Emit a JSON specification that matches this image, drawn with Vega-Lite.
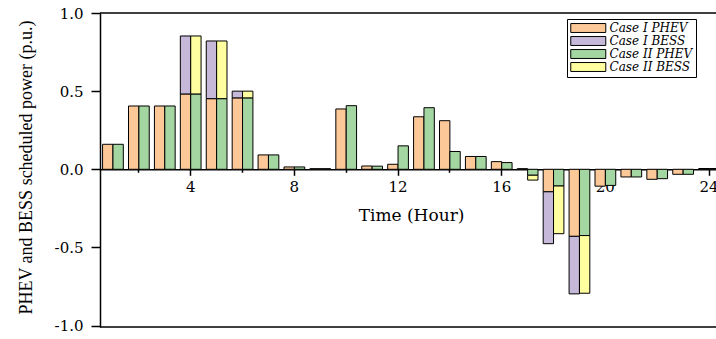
{
  "$schema": "https://vega.github.io/schema/vega-lite/v6.json",
  "autosize": "none",
  "width": 616,
  "height": 314,
  "padding": {"left": 100, "top": 13, "right": 0, "bottom": 12},
  "background": "white",
  "config": {"view": {"stroke": null}},
  "layer": [
    {
      "data": {"values": [
        {"hour":1,"case":"I","type":"PHEV","series":"Case I PHEV","value":0.16},
        {"hour":2,"case":"I","type":"PHEV","series":"Case I PHEV","value":0.405},
        {"hour":3,"case":"I","type":"PHEV","series":"Case I PHEV","value":0.405},
        {"hour":4,"case":"I","type":"PHEV","series":"Case I PHEV","value":0.482},
        {"hour":5,"case":"I","type":"PHEV","series":"Case I PHEV","value":0.452},
        {"hour":6,"case":"I","type":"PHEV","series":"Case I PHEV","value":0.457},
        {"hour":7,"case":"I","type":"PHEV","series":"Case I PHEV","value":0.092},
        {"hour":8,"case":"I","type":"PHEV","series":"Case I PHEV","value":0.015},
        {"hour":9,"case":"I","type":"PHEV","series":"Case I PHEV","value":0.004},
        {"hour":10,"case":"I","type":"PHEV","series":"Case I PHEV","value":0.386},
        {"hour":11,"case":"I","type":"PHEV","series":"Case I PHEV","value":0.021},
        {"hour":12,"case":"I","type":"PHEV","series":"Case I PHEV","value":0.032},
        {"hour":13,"case":"I","type":"PHEV","series":"Case I PHEV","value":0.336},
        {"hour":14,"case":"I","type":"PHEV","series":"Case I PHEV","value":0.311},
        {"hour":15,"case":"I","type":"PHEV","series":"Case I PHEV","value":0.082},
        {"hour":16,"case":"I","type":"PHEV","series":"Case I PHEV","value":0.049},
        {"hour":17,"case":"I","type":"PHEV","series":"Case I PHEV","value":0.004},
        {"hour":18,"case":"I","type":"PHEV","series":"Case I PHEV","value":-0.144},
        {"hour":19,"case":"I","type":"PHEV","series":"Case I PHEV","value":-0.429},
        {"hour":20,"case":"I","type":"PHEV","series":"Case I PHEV","value":-0.108},
        {"hour":21,"case":"I","type":"PHEV","series":"Case I PHEV","value":-0.049},
        {"hour":22,"case":"I","type":"PHEV","series":"Case I PHEV","value":-0.064},
        {"hour":23,"case":"I","type":"PHEV","series":"Case I PHEV","value":-0.032},
        {"hour":24,"case":"I","type":"PHEV","series":"Case I PHEV","value":0.005},
        {"hour":4,"case":"I","type":"BESS","series":"Case I BESS","value":0.371},
        {"hour":5,"case":"I","type":"BESS","series":"Case I BESS","value":0.369},
        {"hour":6,"case":"I","type":"BESS","series":"Case I BESS","value":0.043},
        {"hour":18,"case":"I","type":"BESS","series":"Case I BESS","value":-0.332},
        {"hour":19,"case":"I","type":"BESS","series":"Case I BESS","value":-0.368},
        {"hour":1,"case":"II","type":"PHEV","series":"Case II PHEV","value":0.16},
        {"hour":2,"case":"II","type":"PHEV","series":"Case II PHEV","value":0.405},
        {"hour":3,"case":"II","type":"PHEV","series":"Case II PHEV","value":0.405},
        {"hour":4,"case":"II","type":"PHEV","series":"Case II PHEV","value":0.482},
        {"hour":5,"case":"II","type":"PHEV","series":"Case II PHEV","value":0.452},
        {"hour":6,"case":"II","type":"PHEV","series":"Case II PHEV","value":0.457},
        {"hour":7,"case":"II","type":"PHEV","series":"Case II PHEV","value":0.092},
        {"hour":8,"case":"II","type":"PHEV","series":"Case II PHEV","value":0.015},
        {"hour":9,"case":"II","type":"PHEV","series":"Case II PHEV","value":0.004},
        {"hour":10,"case":"II","type":"PHEV","series":"Case II PHEV","value":0.407},
        {"hour":11,"case":"II","type":"PHEV","series":"Case II PHEV","value":0.02},
        {"hour":12,"case":"II","type":"PHEV","series":"Case II PHEV","value":0.15},
        {"hour":13,"case":"II","type":"PHEV","series":"Case II PHEV","value":0.394},
        {"hour":14,"case":"II","type":"PHEV","series":"Case II PHEV","value":0.114},
        {"hour":15,"case":"II","type":"PHEV","series":"Case II PHEV","value":0.082},
        {"hour":16,"case":"II","type":"PHEV","series":"Case II PHEV","value":0.043},
        {"hour":17,"case":"II","type":"PHEV","series":"Case II PHEV","value":-0.038},
        {"hour":18,"case":"II","type":"PHEV","series":"Case II PHEV","value":-0.107},
        {"hour":19,"case":"II","type":"PHEV","series":"Case II PHEV","value":-0.424},
        {"hour":20,"case":"II","type":"PHEV","series":"Case II PHEV","value":-0.103},
        {"hour":21,"case":"II","type":"PHEV","series":"Case II PHEV","value":-0.049},
        {"hour":22,"case":"II","type":"PHEV","series":"Case II PHEV","value":-0.06},
        {"hour":23,"case":"II","type":"PHEV","series":"Case II PHEV","value":-0.032},
        {"hour":24,"case":"II","type":"PHEV","series":"Case II PHEV","value":0.005},
        {"hour":4,"case":"II","type":"BESS","series":"Case II BESS","value":0.371},
        {"hour":5,"case":"II","type":"BESS","series":"Case II BESS","value":0.369},
        {"hour":6,"case":"II","type":"BESS","series":"Case II BESS","value":0.043},
        {"hour":17,"case":"II","type":"BESS","series":"Case II BESS","value":-0.031},
        {"hour":18,"case":"II","type":"BESS","series":"Case II BESS","value":-0.305},
        {"hour":19,"case":"II","type":"BESS","series":"Case II BESS","value":-0.369}
      ]},
      "mark": {"type": "bar", "stroke": "black", "strokeWidth": 1, "opacity": 1},
      "encoding": {
        "x": {
          "field": "hour", "type": "ordinal",
          "scale": {"type": "band", "paddingInner": 0.2, "paddingOuter": 0.1, "range": [0, 622]},
          "axis": {
            "values": [2,4,6,8,10,12,14,16,18,20,22,24],
            "labelExpr": "datum.value % 4 == 0 ? datum.label : ''",
            "labelAngle": 0,
            "offset": -157.7,
            "domainColor": "black", "domainWidth": 1.5,
            "tickColor": "black", "tickWidth": 1.5,
            "tickSize": {"condition": {"test": "datum.value % 4 == 0", "value": 6}, "value": 3},
            "labelPadding": 4,
            "labelFont": "DejaVu Serif", "labelFontSize": 15, "labelColor": "black",
            "title": "Time (Hour)",
            "titleFont": "DejaVu Serif", "titleFontSize": 17, "titleFontWeight": "normal", "titleColor": "black",
            "titlePadding": 13
          }
        },
        "xOffset": {
          "field": "case", "type": "nominal",
          "scale": {"domain": ["I", "II"], "paddingInner": 0, "paddingOuter": 0}
        },
        "y": {
          "field": "value", "type": "quantitative", "stack": "zero",
          "scale": {"domain": [-1.009, 1.0], "nice": false, "zero": false},
          "axis": {
            "values": [-1,-0.75,-0.5,-0.25,0,0.25,0.5,0.75,1],
            "labelExpr": "abs(datum.value*2 - round(datum.value*2)) < 0.001 ? replace(format(datum.value, '.1f'), '\u2212', '-') : ''",
            "grid": false,
            "domainColor": "black", "domainWidth": 1.5,
            "tickColor": "black", "tickWidth": 1.5,
            "tickSize": {"condition": {"test": "abs(datum.value*2 - round(datum.value*2)) < 0.001", "value": 9}, "value": 5},
            "labelPadding": 8,
            "labelFont": "DejaVu Serif", "labelFontSize": 15, "labelColor": "black",
            "title": "PHEV and BESS scheduled power (p.u.)",
            "titleFont": "Liberation Serif", "titleFontSize": 18, "titleFontWeight": "normal", "titleColor": "black",
            "titleX": -74, "titleY": 154, "titleAngle": -90, "titleAlign": "center", "titleBaseline": "middle"
          }
        },
        "color": {
          "field": "series", "type": "nominal",
          "scale": {
            "domain": ["Case I PHEV", "Case I BESS", "Case II PHEV", "Case II BESS"],
            "range": ["#FDC898", "#C6B8D9", "#A3D6A0", "#FFFFA0"]
          },
          "legend": {
            "orient": "none", "legendX": 467, "legendY": 6, "title": null,
            "strokeColor": "black", "fillColor": "white", "padding": 3,
            "symbolType": "M-1,-0.85H5.68V0.85H-1Z", "symbolSize": 110,
            "symbolStrokeColor": "black", "symbolStrokeWidth": 1, "symbolOpacity": 1,
            "labelFont": "DejaVu Serif", "labelFontStyle": "italic", "labelFontSize": 12, "labelColor": "black",
            "labelOffset": 27.5, "rowPadding": -2.5
          }
        },
        "order": {"field": "type", "sort": "descending"}
      }
    },
    {
      "data": {"values": [{}]},
      "mark": {"type": "rule", "color": "black", "strokeWidth": 1.5},
      "encoding": {"y": {"datum": 1.0}}
    },
    {
      "data": {"values": [{}]},
      "mark": {"type": "rule", "color": "black", "strokeWidth": 1.5},
      "encoding": {"y": {"datum": -1.009}}
    }
  ]
}
